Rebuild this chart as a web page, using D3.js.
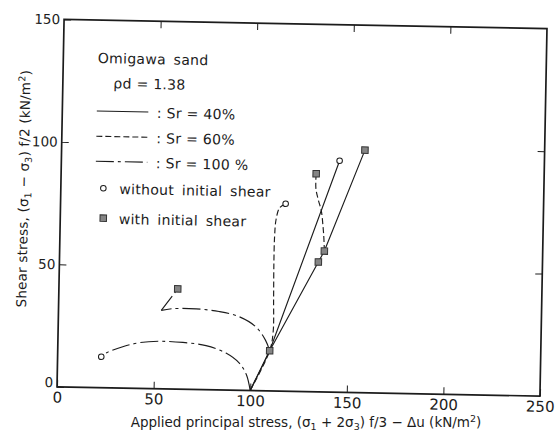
<!DOCTYPE html>
<html>
<head>
<meta charset="utf-8">
<script src="https://cdn.jsdelivr.net/npm/d3@7"></script>
<style>
  html, body { margin: 0; padding: 0; background: #fff; }
  svg { display: block; }
  text { font-family: "DejaVu Sans", sans-serif; fill: #1c1c1c; }
</style>
</head>
<body>
<svg id="chart" width="555" height="434"></svg>
<script>
// Effective stress paths of Omigawa sand (ρd = 1.38) at three degrees of saturation.

const xTicks = [0, 50, 100, 150, 200, 250];
const yTicks = [0, 50, 100, 150];

// Sr = 40 %  (solid)
const sr40Plain = [[100, 0], [109.7, 16.4], [144, 94.5]];
const sr40Shear = [[100, 0], [109.7, 16.4], [134, 53], [137, 57.5], [157, 99]];

// Sr = 60 %  (dashed)
const sr60Plain = [[100, 0], [109.7, 16.4], [111.3, 24], [111.2, 38], [111, 52], [111.1, 63],
                   [111.7, 70], [113.4, 74.8], [116.5, 76.5]];
const sr60Shear = [[137, 57.5], [136.6, 63], [136, 68], [135, 74], [133.3, 78.5], [132, 83], [132, 89]];

// Sr = 100 %  (dash-dot)
const sr100Plain = [[100, 0], [97.9, 6.4], [94.1, 11.1], [87.1, 15.1], [76.7, 18], [64.7, 19.1],
                    [52.7, 19.4], [42.5, 18.7], [34, 17], [25.6, 14.4], [22.6, 12.6]];
const sr100Shear = [[109.7, 16.4], [107.4, 20.7], [102.2, 26.1], [93.4, 30.1], [83.1, 32],
                    [71.2, 32.9], [59.2, 32.8], [53.2, 32]];
const sr100ShearTail = [[53.2, 32], [61.5, 40.9]];

// end points of the tests without initial shear (open circles)
const plainPoints = [[22.6, 12.6], [116.5, 76.5], [144, 94.5]];
// states of the tests with initial shear (filled squares)
const shearPoints = [[109.7, 16.4], [134, 53], [137, 57.5], [132, 89], [157, 99], [61.5, 40.9]];

const legendTitle = ["Omigawa sand", "ρd = 1.38"];
const legendSr = [":  Sr = 40%", ":  Sr = 60%", ":  Sr = 100 %"];
const legendMarks = ["without initial shear", "with initial shear"];

const ink = "#1c1c1c";
const dashes = { solid: null, dashed: "6,3", dashdot: "18,4,3,4" };

const svg = d3.select("#chart");
// the plotting sheet sits slightly tilted
const g = svg.append("g").attr("transform", "rotate(1.1, 302, 207.75)");

const x = d3.scaleLinear().domain([0, 250]).range([60.5, 543.5]);
const y = d3.scaleLinear().domain([0, 150]).range([391.5, 24]);

// frame
g.append("rect")
  .attr("x", x(0)).attr("y", y(150))
  .attr("width", x(250) - x(0)).attr("height", y(0) - y(150))
  .attr("fill", "none").attr("stroke", ink).attr("stroke-width", 1.7);

function styleAxis(size) {
  return sel => {
    sel.select(".domain").remove();
    sel.selectAll(".tick line").attr("stroke", ink).attr("stroke-width", 1);
    sel.selectAll(".tick text").attr("font-size", size).attr("fill", ink)
       .attr("font-family", "DejaVu Sans, sans-serif");
  };
}

g.append("g").attr("transform", `translate(0,${y(0)})`)
  .call(d3.axisBottom(x).tickValues(xTicks).tickSizeInner(-7).tickSizeOuter(0).tickPadding(5))
  .call(styleAxis(15));

const yAxis = g.append("g").attr("transform", `translate(${x(0)},0)`)
  .call(d3.axisLeft(y).tickValues(yTicks).tickSizeInner(-7).tickSizeOuter(0).tickPadding(4))
  .call(styleAxis(13.5));
yAxis.selectAll(".tick text").filter(d => d === 0).attr("dy", "0.0em");

g.append("g").attr("transform", `translate(0,${y(150)})`)
  .call(d3.axisTop(x).tickValues(xTicks.slice(1, -1)).tickSizeInner(-7).tickSizeOuter(0).tickFormat(""))
  .call(styleAxis(15));
g.append("g").attr("transform", `translate(${x(250)},0)`)
  .call(d3.axisRight(y).tickValues(yTicks.slice(1, -1)).tickSizeInner(-7).tickSizeOuter(0).tickFormat(""))
  .call(styleAxis(15));

// x-axis title, kept level below the sheet
const xTitle = svg.append("text")
  .attr("x", 306).attr("y", 427).attr("text-anchor", "middle")
  .attr("font-size", 13.5);
xTitle.append("tspan").text("Applied principal stress, (σ");
xTitle.append("tspan").text("1").attr("font-size", 9.5).attr("baseline-shift", "-3");
xTitle.append("tspan").text(" + 2σ");
xTitle.append("tspan").text("3").attr("font-size", 9.5).attr("baseline-shift", "-3");
xTitle.append("tspan").text(") f/3 − Δu (kN/m");
xTitle.append("tspan").text("2").attr("font-size", 9.5).attr("baseline-shift", "5");
xTitle.append("tspan").text(")");

const yTitle = g.append("text")
  .attr("transform", "translate(28,194) rotate(-90)")
  .attr("text-anchor", "middle")
  .attr("font-size", 13.5).attr("letter-spacing", 0.2);
yTitle.append("tspan").text("Shear stress, (σ");
yTitle.append("tspan").text("1").attr("font-size", 9.5).attr("baseline-shift", "-3");
yTitle.append("tspan").text(" − σ");
yTitle.append("tspan").text("3").attr("font-size", 9.5).attr("baseline-shift", "-3");
yTitle.append("tspan").text(") f/2 (kN/m");
yTitle.append("tspan").text("2").attr("font-size", 9.5).attr("baseline-shift", "5");
yTitle.append("tspan").text(")");

// stress paths
const straight = d3.line().x(d => x(d[0])).y(d => y(d[1]));
const smooth = d3.line().x(d => x(d[0])).y(d => y(d[1])).curve(d3.curveCatmullRom.alpha(0.5));

const paths = [
  { data: sr40Plain, gen: straight, dash: dashes.solid },
  { data: sr40Shear, gen: straight, dash: dashes.solid },
  { data: sr60Plain, gen: smooth, dash: dashes.dashed },
  { data: sr60Shear, gen: smooth, dash: dashes.dashed },
  { data: sr100Plain, gen: smooth, dash: dashes.dashdot },
  { data: sr100Shear, gen: smooth, dash: dashes.dashdot },
  { data: sr100ShearTail, gen: straight, dash: dashes.dashdot }
];

g.append("g").selectAll("path").data(paths).join("path")
  .attr("d", p => p.gen(p.data))
  .attr("fill", "none").attr("stroke", ink).attr("stroke-width", 1.15)
  .attr("stroke-dasharray", p => p.dash);

// markers
const sq = 6.5;
g.append("g").selectAll("rect").data(shearPoints).join("rect")
  .attr("x", d => x(d[0]) - sq / 2).attr("y", d => y(d[1]) - sq / 2)
  .attr("width", sq).attr("height", sq)
  .attr("fill", "#858585").attr("stroke", "#333").attr("stroke-width", 1);

g.append("g").selectAll("circle").data(plainPoints).join("circle")
  .attr("cx", d => x(d[0])).attr("cy", d => y(d[1])).attr("r", 2.8)
  .attr("fill", "#fff").attr("stroke", ink).attr("stroke-width", 1);

// legend
const leg = g.append("g").attr("font-size", 14).attr("letter-spacing", 0.3);
leg.append("text").attr("x", 95).attr("y", 67).text(legendTitle[0]).attr("word-spacing", 3);
leg.append("text").attr("x", 111).attr("y", 92).text(legendTitle[1]);

const srDash = [dashes.solid, dashes.dashed, dashes.dashdot];
const srRowY = [115, 140.2, 165.2];
legendSr.forEach((label, i) => {
  leg.append("line")
    .attr("x1", 95).attr("x2", 146.5).attr("y1", srRowY[i]).attr("y2", srRowY[i])
    .attr("stroke", ink).attr("stroke-width", 1.1).attr("stroke-dasharray", srDash[i]);
  leg.append("text").attr("x", 155).attr("y", srRowY[i] + 5.8).text(label);
});

leg.append("circle").attr("cx", 103).attr("cy", 192).attr("r", 2.8)
  .attr("fill", "#fff").attr("stroke", ink).attr("stroke-width", 1);
leg.append("text").attr("x", 119).attr("y", 197.5).text(legendMarks[0]).attr("word-spacing", 3);
leg.append("rect").attr("x", 103.5 - sq / 2).attr("y", 222 - sq / 2).attr("width", sq).attr("height", sq)
  .attr("fill", "#858585").attr("stroke", "#333").attr("stroke-width", 1);
leg.append("text").attr("x", 119).attr("y", 227.5).text(legendMarks[1]).attr("word-spacing", 3);
</script>
</body>
</html>
